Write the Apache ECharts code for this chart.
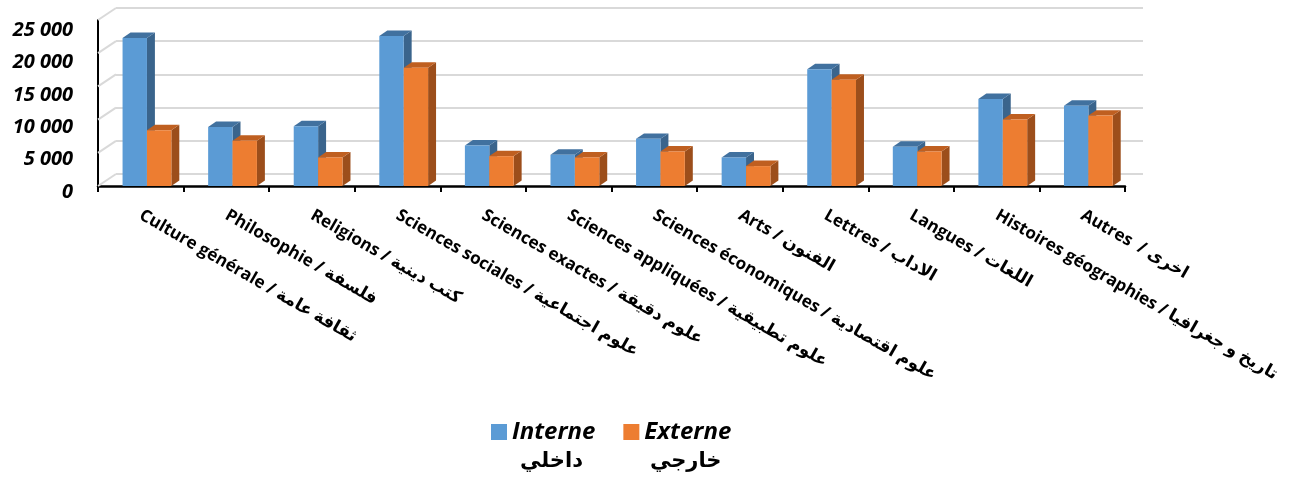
<!DOCTYPE html>
<html>
<head>
<meta charset="utf-8">
<script src="https://cdn.jsdelivr.net/npm/echarts@6/dist/echarts.min.js"></script>
<style>
html,body{margin:0;padding:0;background:#fff;}
#c{width:1299px;height:477px;}
</style>
</head>
<body>
<div id="c"></div>
<script>
const categories = [
  'Culture générale / ثقافة عامة',
  'Philosophie / فلسفة',
  'Religions / كتب دينية',
  'Sciences sociales / علوم اجتماعية',
  'Sciences exactes / علوم دقيقة',
  'Sciences appliquées / علوم تطبيقية',
  'Sciences économiques / علوم اقتصادية',
  'Arts / الفنون',
  'Lettres / الاداب',
  'Langues / اللغات',
  'Histoires géographies / تاريخ و جغرافيا',
  'Autres  / اخرى'
];
const interne = [22300, 8900, 9000, 22600, 6100, 4700, 7100, 4300, 17600, 5900, 13100, 12100];
const externe = [8400, 6800, 4300, 17800, 4500, 4300, 5200, 3000, 16000, 5200, 10000, 10600];
const seriesNames = ['Interne', 'Externe'];
const seriesNamesAr = ['داخلي', 'خارجي'];
const yTicks = [0, 5000, 10000, 15000, 20000, 25000];

const FONT = "'Open Sans', 'DejaVu Sans', sans-serif";
const WALL_DX = 18, WALL_DY = -12;
const COLORS = [
  {front: '#5b9bd5', top: '#41719f', side: '#3a648c'},
  {front: '#ed7d31', top: '#bf5f20', side: '#9c4e1b'}
];

function fmt(v) {
  return String(v).replace(/\B(?=(\d{3})+(?!\d))/g, ' ');
}

function barRenderer(sIdx) {
  const c = COLORS[sIdx];
  return function (params, api) {
    const idx = api.value(0);
    const val = api.value(1);
    const base = api.coord([idx, 0]);
    const topP = api.coord([idx, val]);
    const band = api.size([1, 0])[0];
    const w = band * 0.285;
    const shift = band * 0.072;
    const dx = band * 0.093, dy = -band * 0.064;
    const x0 = base[0] + shift - w + sIdx * w;
    const x1 = x0 + w;
    const yb = base[1], yt = topP[1];
    return {
      type: 'group',
      children: [
        {type: 'polygon', shape: {points: [[x1, yt], [x1 + dx, yt + dy], [x1 + dx, yb + dy], [x1, yb]]}, style: {fill: c.side}},
        {type: 'polygon', shape: {points: [[x0, yt], [x0 + dx, yt + dy], [x1 + dx, yt + dy], [x1, yt]]}, style: {fill: c.top}},
        {type: 'rect', shape: {x: x0, y: yt, width: w, height: yb - yt}, style: {fill: c.front}}
      ]
    };
  };
}

const chart = echarts.init(document.getElementById('c'));
chart.setOption({
  animation: false,
  backgroundColor: '#fff',
  grid: [
    {left: 98, right: 174, top: 20, bottom: 291},
    {left: 98 + WALL_DX, right: 174 - WALL_DX, top: 20 + WALL_DY, bottom: 291 - WALL_DY},
    {left: 98, right: 174, top: 30, bottom: 285}
  ],
  legend: [
    {
      data: seriesNames, left: 491, top: 420, padding: 0,
      itemWidth: 16, itemHeight: 16, itemGap: 28, icon: 'rect',
      textStyle: {fontFamily: FONT, fontSize: 24, fontWeight: 'bold', fontStyle: 'italic', color: '#000'}
    },
    {
      data: seriesNames, left: 499, top: 451, padding: 0,
      itemWidth: 16, itemHeight: 16, itemGap: 46, icon: 'rect',
      itemStyle: {opacity: 0},
      formatter: function (n) { return seriesNamesAr[seriesNames.indexOf(n)]; },
      textStyle: {fontFamily: FONT, fontSize: 21, fontWeight: 'bold', color: '#000'}
    }
  ],
  xAxis: [
    {
      type: 'category', data: categories, gridIndex: 0, offset: 4,
      axisLine: {lineStyle: {color: '#000', width: 2.5}},
      axisTick: {show: true, interval: 0, length: 6, lineStyle: {color: '#000', width: 2}},
      axisLabel: {interval: 0, rotate: -30, margin: 24, fontFamily: FONT, fontSize: 17, fontWeight: 'bold', color: '#000'}
    },
    {type: 'category', data: categories, gridIndex: 1, show: false},
    {type: 'category', data: categories, gridIndex: 2, show: false}
  ],
  yAxis: [
    {
      type: 'value', gridIndex: 0, min: 0, max: 25000, interval: 5000,
      axisLine: {show: true, lineStyle: {color: '#000', width: 2}},
      axisTick: {show: false},
      splitLine: {show: false},
      axisLabel: {show: false}
    },
    {
      type: 'value', gridIndex: 1, min: 0, max: 25000, interval: 5000,
      axisLine: {show: false}, axisTick: {show: false}, axisLabel: {show: false},
      splitLine: {show: true, lineStyle: {color: '#d9d9d9', width: 2}}
    },
    {
      type: 'value', gridIndex: 2, min: 0, max: 25000, interval: 5000,
      axisLine: {show: false}, axisTick: {show: false}, splitLine: {show: false},
      axisLabel: {margin: 25, formatter: fmt, fontFamily: FONT, fontSize: 20, fontWeight: 'bold', fontStyle: 'italic', color: '#000'}
    }
  ],
  series: [
    {
      type: 'custom', name: 'wall', xAxisIndex: 0, yAxisIndex: 0, silent: true,
      data: yTicks.map(function (v) { return [0, v]; }),
      renderItem: function (params, api) {
        const p = api.coord([0, api.value(1)]);
        const band = api.size([1, 0])[0];
        const x0 = p[0] - band / 2;
        return {type: 'line', shape: {x1: x0, y1: p[1], x2: x0 + WALL_DX, y2: p[1] + WALL_DY}, style: {stroke: '#d9d9d9', lineWidth: 2}};
      },
      z: 1
    },
    {
      type: 'custom', name: seriesNames[0], xAxisIndex: 0, yAxisIndex: 0,
      itemStyle: {color: COLORS[0].front},
      data: interne.map(function (v, i) { return [i, v]; }),
      renderItem: barRenderer(0), z: 2
    },
    {
      type: 'custom', name: seriesNames[1], xAxisIndex: 0, yAxisIndex: 0,
      itemStyle: {color: COLORS[1].front},
      data: externe.map(function (v, i) { return [i, v]; }),
      renderItem: barRenderer(1), z: 3
    }
  ]
});
</script>
</body>
</html>
